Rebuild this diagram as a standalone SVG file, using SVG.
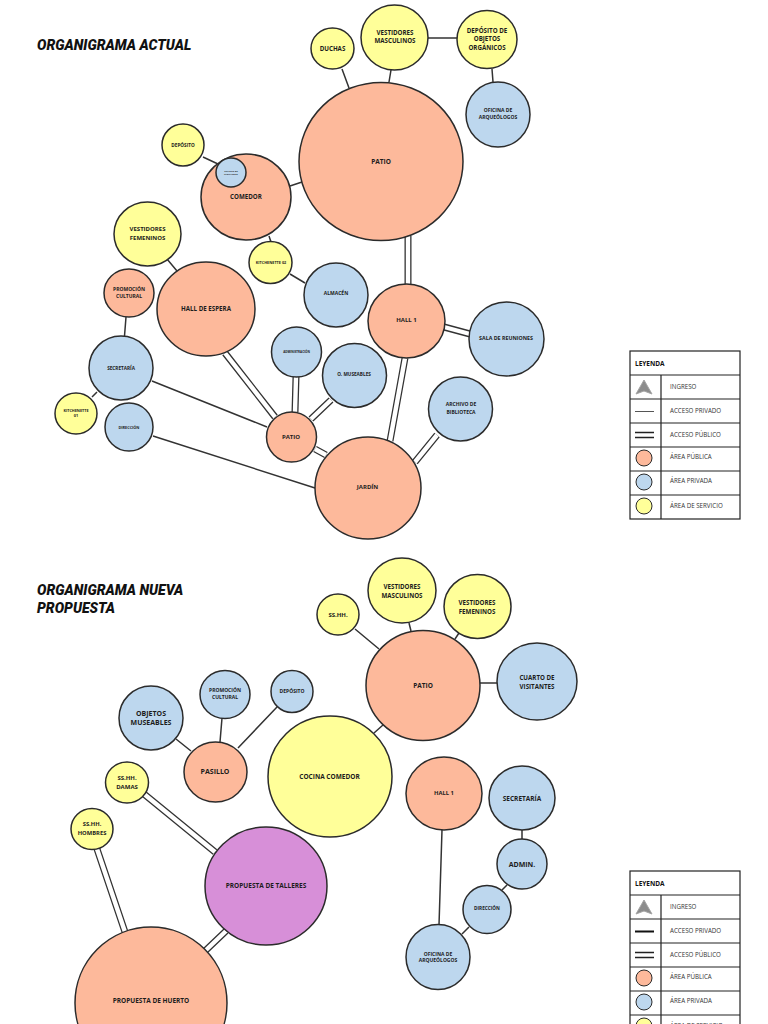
<svg xmlns="http://www.w3.org/2000/svg" width="768" height="1024" viewBox="0 0 768 1024">
<style>
text{font-family:"Open Sans","Noto Sans","Liberation Sans",sans-serif;font-weight:700;fill:#1c1c1c;text-anchor:middle}
ellipse{stroke:#2b2b2b;stroke-width:1.5}
.pub{fill:#fdb99b}.pri{fill:#bdd7ee}.ser{fill:#ffff99}.tal{fill:#d78fd8}
.s{stroke:#333;stroke-width:1.5;fill:none}
.do{stroke:#333;stroke-width:7;fill:none}
.di{stroke:#fff;stroke-width:4.4;fill:none}
.t{font-family:Roboto,"Liberation Sans",sans-serif;font-style:italic;font-weight:900;font-size:14px;text-anchor:start;fill:#111}
.lg{fill:#fff;stroke:#222;stroke-width:1.2}
.lgl{stroke:#222;stroke-width:1.2;fill:none}
.lt{font-size:6.2px;font-weight:400;text-anchor:start;fill:#333}
.lh{font-size:6.5px;text-anchor:start;fill:#111}
.lc{stroke-width:1}
.a2{font-size:2.400px}.a3{font-size:3px}.a38{font-size:3.800px}.a47{font-size:4.700px}.a5{font-size:5px}.a53{font-size:5.300px}.a58{font-size:5.800px}.a6{font-size:6px}.a62{font-size:6.200px}.a65{font-size:6.500px}.a7{font-size:7px}
</style>
<defs>
<g id="legend">
<rect class="lg" x="630" y="0" width="110" height="168"/>
<path class="lgl" d="M630 24H740M630 48H740M630 72H740M630 96H740M630 120H740M630 144H740M661 24V168"/>
<text class="lh" x="635" y="14.500">LEYENDA</text>
<path d="M644 29L652 43L644 40L636 43Z" fill="#8c8c8c" stroke="#a5a5a5"/>
<text class="lt" x="670" y="38">INGRESO</text>
<text class="lt" x="670" y="62">ACCESO PRIVADO</text>
<path class="lgl" d="M635 81.500H654M635 86.500H654" style="stroke-width:1.600"/>
<text class="lt" x="670" y="86">ACCESO PÚBLICO</text>
<ellipse class="pub lc" cx="644" cy="107" rx="8" ry="8"/>
<text class="lt" x="670" y="108">ÁREA PÚBLICA</text>
<ellipse class="pri lc" cx="644" cy="131" rx="8" ry="8"/>
<text class="lt" x="670" y="132">ÁREA PRIVADA</text>
<ellipse class="ser lc" cx="644" cy="155" rx="8" ry="8"/>
<text class="lt" x="670" y="156.500">ÁREA DE SERVICIO</text>
</g>
</defs>
<text class="t" x="37" y="50">ORGANIGRAMA ACTUAL</text>
<text class="t" x="37" y="595">ORGANIGRAMA NUEVA</text>
<text class="t" x="37" y="613">PROPUESTA</text>
<g id="connectors">
<path class="s" d="M342 69L349 88M391 70L389 82M428 38H458M492 69L493 82M203 157L218 164M290 186L302 182M269 236L271 242M290 274L305 283M167 259L177 271M126 317L124.500 336M97 392L92 397M152 381L267 427M153 436L315 488"/>
<path class="s" d="M355 629L379 649M409 623L411 631M459 633L455 639M480 683H497M176 739L191 751M222 718L220 742M277 707L238 748M383 725L374 733M442 830L439 925M522 830V839M507 885L502 890M469 927L462 934"/>
<path class="do" d="M408 236V285M444 327L470 334M405 358L390 441M437 435L415 462M225 353L275 417M296 377L295 412M331 400L311 419M315 449L326 455M144 794L215 852M97 849L125 932M226 931L205 951"/>
<path class="di" d="M408 236V285M444 327L470 334M405 358L390 441M437 435L415 462M225 353L275 417M296 377L295 412M331 400L311 419M315 449L326 455M144 794L215 852M97 849L125 932M226 931L205 951"/>
</g>
<g id="n1"><ellipse class="pub" cx="381" cy="161.500" rx="82" ry="79"/><text class="a65" x="381" y="163.500">PATIO</text></g>
<g id="n2"><ellipse class="ser" cx="394.500" cy="37.500" rx="33.500" ry="32.500"/><text class="a62" x="395" y="35">VESTIDORES</text><text class="a62" x="395" y="43">MASCULINOS</text></g>
<g id="n3"><ellipse class="ser" cx="332.500" cy="48.500" rx="21.500" ry="20.500"/><text class="a62" x="332.500" y="51">DUCHAS</text></g>
<g id="n4"><ellipse class="ser" cx="487" cy="39.500" rx="30" ry="29"/><text class="a62" x="487" y="33">DEPÓSITO DE</text><text class="a62" x="487" y="41">OBJETOS</text><text class="a62" x="487" y="50">ORGÁNICOS</text></g>
<g id="n5"><ellipse class="pri" cx="498" cy="114.500" rx="32" ry="32.500"/><text class="a5" x="498" y="112">OFICINA DE</text><text class="a5" x="498" y="119">ARQUEÓLOGOS</text></g>
<g id="n6"><ellipse class="pub" cx="246" cy="197" rx="45" ry="43"/><text class="a62" x="246" y="199">COMEDOR</text></g>
<g id="n7"><ellipse class="pri" cx="231" cy="172.500" rx="15" ry="14.500"/><text class="a2" x="231" y="171.500">CUARTO DE</text><text class="a2" x="231" y="174.500">VIGILANTES</text></g>
<g id="n8"><ellipse class="ser" cx="183" cy="145" rx="21" ry="21"/><text class="a47" x="183" y="147">DEPÓSITO</text></g>
<g id="n9"><ellipse class="ser" cx="147.500" cy="234" rx="33.500" ry="32"/><text class="a6" x="147.500" y="231">VESTIDORES</text><text class="a6" x="147.500" y="240">FEMENINOS</text></g>
<g id="n10"><ellipse class="ser" cx="270.500" cy="262.500" rx="21.500" ry="21"/><text class="a38" x="271" y="263.500">KITCHENETTE 02</text></g>
<g id="n11"><ellipse class="pri" cx="336" cy="295" rx="32" ry="32"/><text class="a5" x="336" y="295">ALMACÉN</text></g>
<g id="n12"><ellipse class="pub" cx="206" cy="309" rx="49" ry="47"/><text class="a62" x="206" y="311">HALL DE ESPERA</text></g>
<g id="n13"><ellipse class="pub" cx="129" cy="293" rx="25" ry="24"/><text class="a5" x="129" y="291">PROMOCIÓN</text><text class="a5" x="129" y="297.500">CULTURAL</text></g>
<g id="n14"><ellipse class="pub" cx="406.500" cy="321" rx="38.500" ry="37"/><text class="a6" x="406.500" y="322">HALL 1</text></g>
<g id="n15"><ellipse class="pri" cx="506.500" cy="339" rx="37.500" ry="37"/><text class="a53" x="506" y="340">SALA DE REUNIONES</text></g>
<g id="n16"><ellipse class="pri" cx="121" cy="368" rx="32" ry="32"/><text class="a47" x="121" y="369.500">SECRETARÍA</text></g>
<g id="n17"><ellipse class="ser" cx="76" cy="413.500" rx="21" ry="20.500"/><text class="a38" x="76" y="411.500">KITCHENETTE</text><text class="a38" x="76" y="416.500">01</text></g>
<g id="n18"><ellipse class="pri" cx="129" cy="427" rx="24" ry="24"/><text class="a38" x="129" y="428.500">DIRECCIÓN</text></g>
<g id="n19"><ellipse class="pri" cx="296.500" cy="352" rx="25" ry="25"/><text class="a3" x="296.500" y="353">ADMINISTRACIÓN</text></g>
<g id="n20"><ellipse class="pri" cx="354.500" cy="375.500" rx="32" ry="32"/><text class="a47" x="354" y="376">O. MUSEABLES</text></g>
<g id="n21"><ellipse class="pri" cx="460.500" cy="409" rx="32" ry="32"/><text class="a5" x="461" y="406">ARCHIVO DE</text><text class="a5" x="461" y="413.500">BIBLIOTECA</text></g>
<g id="n22"><ellipse class="pub" cx="291.500" cy="437" rx="25" ry="25"/><text class="a6" x="291" y="438.500">PATIO</text></g>
<g id="n23"><ellipse class="pub" cx="368" cy="488" rx="53" ry="51"/><text class="a6" x="367.500" y="489">JARDÍN</text></g>
<g id="legend1"><use href="#legend" y="351"/></g>
<path class="s" d="M635 411.500H654" style="stroke:#555;stroke-width:1"/>
<g id="m1"><ellipse class="ser" cx="338" cy="614.500" rx="21" ry="20.500"/><text class="a6" x="338" y="617">SS.HH.</text></g>
<g id="m2"><ellipse class="ser" cx="402" cy="590.500" rx="34" ry="32.500"/><text class="a62" x="402" y="588.500">VESTIDORES</text><text class="a62" x="402" y="597.500">MASCULINOS</text></g>
<g id="m3"><ellipse class="ser" cx="477.500" cy="606.500" rx="33.500" ry="32"/><text class="a62" x="477" y="604.500">VESTIDORES</text><text class="a62" x="477" y="613.500">FEMENINOS</text></g>
<g id="m4"><ellipse class="pub" cx="423" cy="685.500" rx="57" ry="55"/><text class="a65" x="423" y="687.500">PATIO</text></g>
<g id="m5"><ellipse class="pri" cx="537" cy="681.500" rx="40" ry="38.500"/><text class="a62" x="537" y="679.500">CUARTO DE</text><text class="a62" x="537" y="688.500">VISITANTES</text></g>
<g id="m6"><ellipse class="pri" cx="151" cy="718" rx="32" ry="32"/><text class="a7" x="151" y="716">OBJETOS</text><text class="a7" x="151" y="725">MUSEABLES</text></g>
<g id="m7"><ellipse class="pri" cx="225" cy="694.500" rx="25" ry="24"/><text class="a5" x="225" y="692">PROMOCIÓN</text><text class="a5" x="225" y="699">CULTURAL</text></g>
<g id="m8"><ellipse class="pri" cx="292" cy="691.500" rx="21" ry="21"/><text class="a5" x="292" y="692.500">DEPÓSITO</text></g>
<g id="m9"><ellipse class="pub" cx="215.500" cy="772" rx="31.500" ry="30"/><text class="a7" x="215" y="773.500">PASILLO</text></g>
<g id="m10"><ellipse class="ser" cx="330" cy="776.500" rx="62" ry="60.500"/><text class="a65" x="329.500" y="778.500">COCINA COMEDOR</text></g>
<g id="m11"><ellipse class="ser" cx="127" cy="782.500" rx="21.500" ry="20.500"/><text class="a6" x="127" y="780">SS.HH.</text><text class="a6" x="127" y="789">DAMAS</text></g>
<g id="m12"><ellipse class="pub" cx="444" cy="793.500" rx="38" ry="36.500"/><text class="a58" x="444" y="795">HALL 1</text></g>
<g id="m13"><ellipse class="pri" cx="522" cy="798" rx="33" ry="32"/><text class="a65" x="522" y="800.500">SECRETARÍA</text></g>
<g id="m14"><ellipse class="pri" cx="522" cy="864" rx="25" ry="25"/><text class="a7" x="522" y="866.500">ADMIN.</text></g>
<g id="m15"><ellipse class="ser" cx="92" cy="829" rx="21" ry="20.500"/><text class="a58" x="92" y="826">SS.HH.</text><text class="a58" x="92" y="834.500">HOMBRES</text></g>
<g id="m16"><ellipse class="tal" cx="266" cy="886" rx="61" ry="59"/><text class="a65" x="266" y="888">PROPUESTA DE TALLERES</text></g>
<g id="m17"><ellipse class="pri" cx="487" cy="909.500" rx="24" ry="24"/><text class="a47" x="487" y="910">DIRECCIÓN</text></g>
<g id="m18"><ellipse class="pri" cx="438" cy="957" rx="32" ry="32.500"/><text class="a5" x="438" y="955.500">OFICINA DE</text><text class="a5" x="438" y="961.500">ARQUEÓLOGOS</text></g>
<g id="m19"><ellipse class="pub" cx="151" cy="1003" rx="76" ry="76"/><text class="a65" x="151" y="1003">PROPUESTA DE HUERTO</text></g>
<g id="legend2"><use href="#legend" y="871"/></g>
<path class="s" d="M635 931.500H654" style="stroke:#111;stroke-width:2"/>
</svg>
